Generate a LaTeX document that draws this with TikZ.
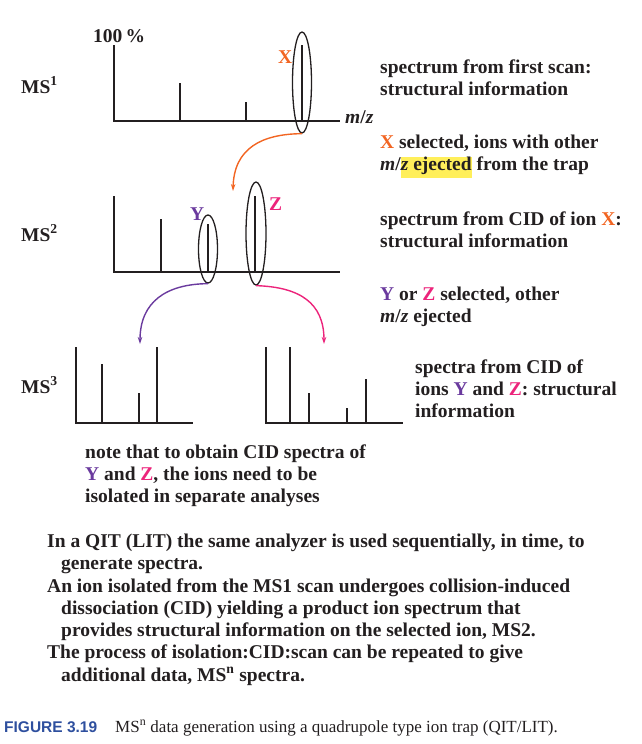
\documentclass[tikz,border=0pt]{standalone}
\usepackage{fontspec}
\setmainfont{Liberation Serif}
\newfontfamily\capfont{Liberation Sans}
\usetikzlibrary{shapes.geometric,arrows.meta}
\definecolor{txt}{HTML}{231F20}
\definecolor{cx}{HTML}{F26522}
\definecolor{cy}{HTML}{6A3A9E}
\definecolor{cz}{HTML}{EC247B}
\definecolor{hl}{HTML}{FFEF5A}
\definecolor{capblue}{HTML}{2E4F9E}
\newcommand{\Xc}{\textcolor{cx}{X}}
\newcommand{\Yc}{\textcolor{cy}{Y}}
\newcommand{\Zc}{\textcolor{cz}{Z}}
\newcommand{\mz}{\textit{m}/\textit{z}}
\begin{document}
\begin{tikzpicture}[x=1pt,y=-1pt,
  axisline/.style={line width=1.8pt, txt},
  peak/.style={line width=1.8pt, txt},
  sel/.style={ellipse, draw=txt, line width=1.3pt, inner sep=0pt},
  conn/.style={line width=1.4pt, -{Stealth[length=7pt,width=4.5pt]}},
  lbl/.style={inner sep=0pt, text=txt, font=\fontsize{19.5}{22}\selectfont\bfseries},
  blk/.style={lbl, anchor=north west, align=left},
]
\useasboundingbox (0,0) rectangle (641,744);

% MS1 spectrum
\draw[axisline] (114,45) -- (114,121) -- (340,121);
\draw[peak] (180,121) -- (180,83);
\draw[peak] (246,121) -- (246,102);
\draw[peak] (302,121) -- (302,45);
\node[sel, minimum width=19pt, minimum height=101pt] (ex) at (302,82.5) {};

% MS2 spectrum
\draw[axisline] (114,196) -- (114,272) -- (340,272);
\draw[peak] (161,272) -- (161,219);
\draw[peak] (208,272) -- (208,224);
\draw[peak] (255,272) -- (255,196);
\node[sel, minimum width=19pt, minimum height=68pt] (ey) at (208,249) {};
\node[sel, minimum width=20pt, minimum height=103pt] (ez) at (256,233.5) {};

% MS3 spectra
\draw[axisline] (76,347) -- (76,423) -- (193,423);
\draw[peak] (102,423) -- (102,364);
\draw[peak] (139,423) -- (139,393);
\draw[peak] (157,423) -- (157,347);
\draw[axisline] (266,347) -- (266,423) -- (403,423);
\draw[peak] (290,423) -- (290,347);
\draw[peak] (309,423) -- (309,393);
\draw[peak] (347,423) -- (347,408);
\draw[peak] (366,423) -- (366,379);

% connectors
\coordinate (ms2in) at (233,191);
\coordinate (ms3a) at (140,344);
\coordinate (ms3b) at (324,344);
\draw[conn, cx] (ex.south) .. controls (262,134) and (234,148) .. (ms2in);
\draw[conn, cy] (ey.south) .. controls (166,284) and (140,302) .. (ms3a);
\draw[conn, cz] (ez.south) .. controls (300,287) and (324,303) .. (ms3b);

% small labels
\node[lbl, anchor=base west] (pct) at (93,42) {100\,\%};
\node[lbl, anchor=base west] (ms1) at (21,93) {MS\textsuperscript{1}};
\node[lbl, anchor=base west] (ms2) at (21,241) {MS\textsuperscript{2}};
\node[lbl, anchor=base west] (ms3) at (21,393) {MS\textsuperscript{3}};
\node[lbl, anchor=base west, text=cx] (lx) at (278,63) {X};
\node[lbl, anchor=base west, text=cy] (ly) at (190,220) {Y};
\node[lbl, anchor=base west, text=cz] (lz) at (269,210) {Z};
\node[lbl, anchor=base west] (mzl) at (345,123) {\mz};

% text blocks
\node[blk] (t1) at (380,57.6) {\strut spectrum from first scan:\\structural information};
\node[blk] (t2) at (380,132.6) {\strut\Xc{} selected, ions with other\\\textit{m}/{\setlength{\fboxsep}{0pt}\colorbox{hl}{\rule[-7.5pt]{0pt}{21pt}\textit{z} ejected}} from the trap};
\node[blk] (t3) at (380,209.6) {\strut spectrum from CID of ion \Xc:\\structural information};
\node[blk] (t4) at (380,284.6) {\strut\Yc{} or \Zc{} selected, other\\\mz{} ejected};
\node[blk] (t5) at (415,357.6) {\strut spectra from CID of\\ions \Yc{} and \Zc: structural\\information};
\node[blk] (t6) at (85,442.6) {\strut note that to obtain CID spectra of\\\Yc{} and \Zc, the ions need to be\\isolated in separate analyses};
\node[blk, font=\fontsize{19.5}{22.3}\selectfont\bfseries] (t7) at (47,531.6) {\strut In a QIT (LIT) the same analyzer is used sequentially, in time, to\\
\hspace*{14pt}generate spectra.\\
An ion isolated from the MS1 scan undergoes collision-induced\\
\hspace*{14pt}dissociation (CID) yielding a product ion spectrum that\\
\hspace*{14pt}provides structural information on the selected ion, MS2.\\
The process of isolation:CID:scan can be repeated to give\\
\hspace*{14pt}additional data, MS\textsuperscript{n} spectra.};

% caption
\node[inner sep=0pt, anchor=base west, text=capblue, font=\capfont\fontsize{15.5}{18}\selectfont\bfseries] (figno) at (4,732) {FIGURE 3.19};
\node[inner sep=0pt, anchor=base west, text=txt, font=\fontsize{17}{20}\selectfont] (cap) at (115,732) {MS\textsuperscript{n} data generation using a quadrupole type ion trap (QIT/LIT).};
\end{tikzpicture}
\end{document}
